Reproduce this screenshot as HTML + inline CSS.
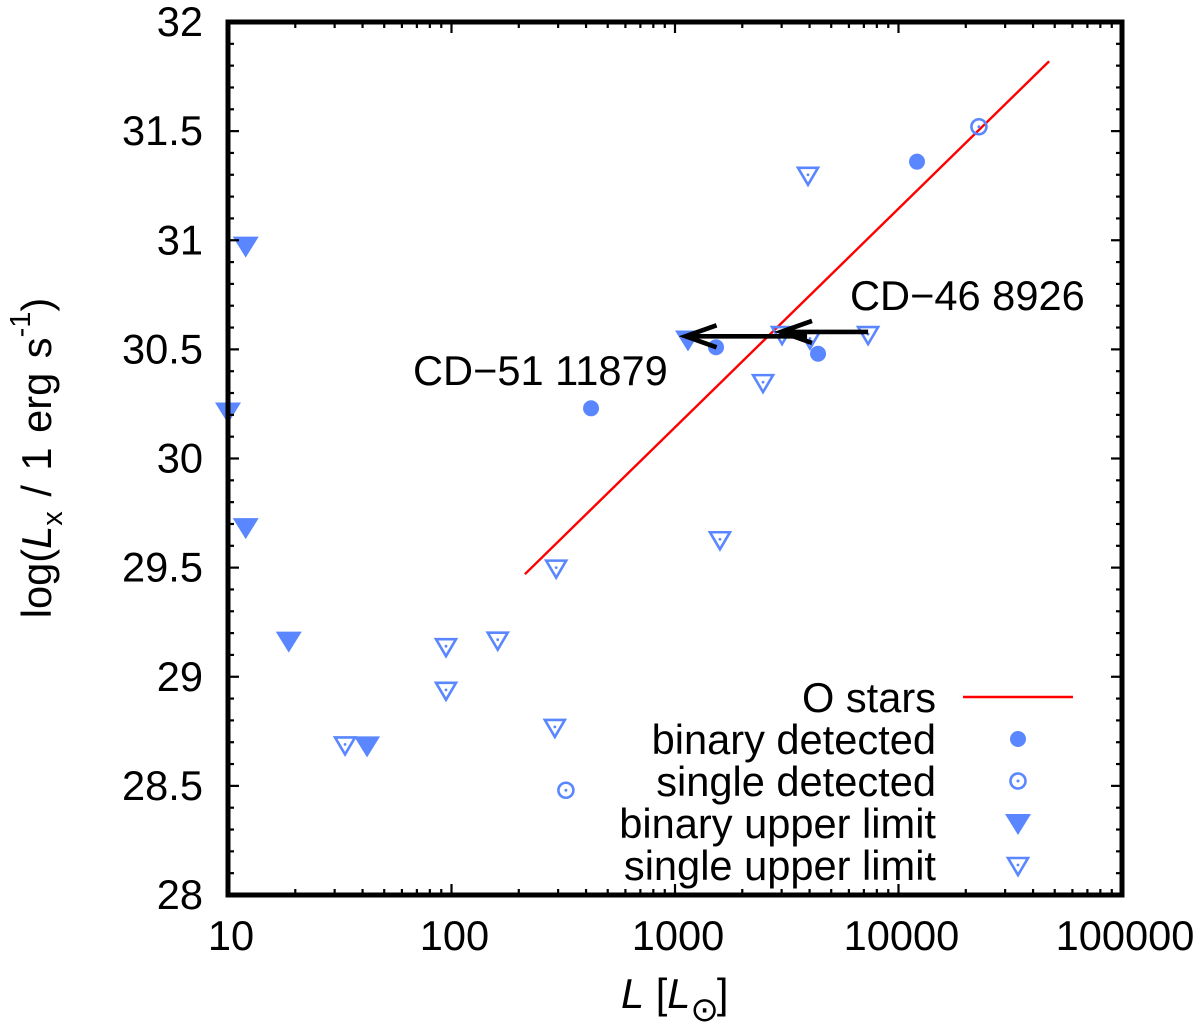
<!DOCTYPE html>
<html lang="en">
<head>
<meta charset="utf-8">
<title>X-ray luminosity versus luminosity</title>
<style>
html,body{margin:0;padding:0;background:#fff;}
svg{display:block;font-family:"Liberation Sans",sans-serif;fill:#000;}
text{font-size:41.6px;}
</style>
</head>
<body>
<svg id="chart" xmlns="http://www.w3.org/2000/svg" width="1200" height="1032" viewBox="0 0 1200 1032">
  <g id="series-layer"></g>
  <g id="axes-layer"></g>
  <g id="labels-layer">
    <text x="621" y="1008"><tspan font-style="italic">L</tspan> [<tspan font-style="italic">L</tspan><tspan dy="13" font-size="34" font-family="'DejaVu Sans',sans-serif">⊙</tspan><tspan dy="-13" dx="-2">]</tspan></text>
    <text transform="translate(51,458) rotate(-90)" text-anchor="middle" word-spacing="3">log(<tspan font-style="italic">L</tspan><tspan dy="11" font-size="29">x</tspan><tspan dy="-11"> / 1 erg s</tspan><tspan dy="-21" font-size="29">-1</tspan><tspan dy="21">)</tspan></text>
    <text x="413" y="385">CD−51 11879</text>
    <text x="850" y="310">CD−46 8926</text>
    <text x="936" y="712" text-anchor="end">O stars</text>
    <text x="936" y="754" text-anchor="end">binary detected</text>
    <text x="936" y="796" text-anchor="end">single detected</text>
    <text x="936" y="838" text-anchor="end">binary upper limit</text>
    <text x="936" y="880" text-anchor="end">single upper limit</text>
  </g>
</svg>
<script>
// ---- data ----
const xTickValues = [10, 100, 1000, 10000, 100000];
const xTickLabels = ["10", "100", "1000", "10000", "100000"];
const yTickValues = [28, 28.5, 29, 29.5, 30, 30.5, 31, 31.5, 32];
const yTickLabels = ["28", "28.5", "29", "29.5", "30", "30.5", "31", "31.5", "32"];

const oStarsL = [213, 47200];
const oStarsLx = [29.47, 31.82];

const binaryDetectedL = [421, 1526, 4365, 12100];
const binaryDetectedLx = [30.23, 30.51, 30.48, 31.36];

const singleDetectedL = [22900, 325];
const singleDetectedLx = [31.52, 28.48];

const binaryLimitL = [12, 10, 12, 18.7, 41.9, 1143];
const binaryLimitLx = [30.98, 30.22, 29.69, 29.17, 28.69, 30.55];

const singleLimitL = [3936, 7311, 3013, 4018, 2477, 1589, 294, 161, 94.5, 94.5, 33.4, 290];
const singleLimitLx = [31.30, 30.57, 30.57, 30.55, 30.35, 29.63, 29.50, 29.17, 29.14, 28.94, 28.69, 28.77];

const arrowFromL = [7311, 3899];
const arrowToL = [2980, 1115];
const arrowLx = [30.58, 30.56];

// ---- axis functions ----
const plotLeft = 228, plotRight = 1122, plotTop = 22, plotBottom = 895;
const xMinLog = 1, xMaxLog = 5, yMin = 28, yMax = 32;
function xScale(v) { return plotLeft + (Math.log10(v) - xMinLog) / (xMaxLog - xMinLog) * (plotRight - plotLeft); }
function yScale(v) { return plotBottom - (v - yMin) / (yMax - yMin) * (plotBottom - plotTop); }

const NS = "http://www.w3.org/2000/svg";
const BLUE = "#5a87ff";
const seriesLayer = document.getElementById("series-layer");
const axesLayer = document.getElementById("axes-layer");

function mk(parent, tag, attrs) {
  const el = document.createElementNS(NS, tag);
  for (const k in attrs) el.setAttribute(k, attrs[k]);
  parent.appendChild(el);
  return el;
}

function triPoints(cx, cy) {
  return (cx - 13) + "," + (cy - 8) + " " + (cx + 13) + "," + (cy - 8) + " " + cx + "," + (cy + 13);
}

function drawFilledCircle(cx, cy) {
  return mk(seriesLayer, "circle", { cx: cx, cy: cy, r: 8, fill: BLUE });
}
function drawOpenCircle(cx, cy) {
  const g = mk(seriesLayer, "g", {});
  mk(g, "circle", { cx: cx, cy: cy, r: 7.5, fill: "none", stroke: BLUE, "stroke-width": 2.6 });
  mk(g, "circle", { cx: cx, cy: cy, r: 1.5, fill: BLUE });
  return g;
}
function drawFilledTriangle(cx, cy) {
  return mk(seriesLayer, "polygon", { points: triPoints(cx, cy), fill: BLUE });
}
function drawOpenTriangle(cx, cy) {
  const g = mk(seriesLayer, "g", {});
  mk(g, "polygon", { points: (cx - 10) + "," + (cy - 7) + " " + (cx + 10) + "," + (cy - 7) + " " + cx + "," + (cy + 10), fill: "none", stroke: BLUE, "stroke-width": 2.6 });
  mk(g, "circle", { cx: cx, cy: cy, r: 1.4, fill: BLUE });
  return g;
}

// ---- O star relation ----
const oLine = mk(seriesLayer, "line", { x1: xScale(oStarsL[0]), y1: yScale(oStarsLx[0]), x2: xScale(oStarsL[1]), y2: yScale(oStarsLx[1]), stroke: "#ff0000", "stroke-width": 2.4 });



// ---- points ----
singleLimitL.forEach(function (v, i) {
  const m = drawOpenTriangle(xScale(v), yScale(singleLimitLx[i]));
  
  
});
binaryLimitL.forEach(function (v, i) {
  const m = drawFilledTriangle(xScale(v), yScale(binaryLimitLx[i]));
  
  
});
binaryDetectedL.forEach(function (v, i) {
  const m = drawFilledCircle(xScale(v), yScale(binaryDetectedLx[i]));
  
  
});
singleDetectedL.forEach(function (v, i) {
  const m = drawOpenCircle(xScale(v), yScale(singleDetectedLx[i]));
  
  
});

// ---- arrows ----
arrowFromL.forEach(function (v, i) {
  const x1 = xScale(v), x2 = xScale(arrowToL[i]), yy = yScale(arrowLx[i]);
  const a = mk(seriesLayer, "path", {
    d: "M" + x1 + " " + yy + "L" + x2 + " " + yy + "M" + (x2 + 31) + " " + (yy - 11) + "L" + x2 + " " + yy + "L" + (x2 + 31) + " " + (yy + 11),
    fill: "none", stroke: "#000", "stroke-width": 4.6, "stroke-linejoin": "miter"
  });
  
  
});

// ---- legend samples ----
const legendLine = mk(seriesLayer, "line", { x1: 963, y1: 697, x2: 1073, y2: 697, stroke: "#ff0000", "stroke-width": 2.4 });


const legendA = drawFilledCircle(1018, 739);


const legendB = drawOpenCircle(1018, 781);


const legendC = drawFilledTriangle(1018, 822);


const legendD = drawOpenTriangle(1018, 865);



// ---- ticks ----
function tick(x1, y1, x2, y2, name) {
  const t = mk(axesLayer, "line", { x1: x1, y1: y1, x2: x2, y2: y2, stroke: "#000", "stroke-width": 2.2 });
  
  
}
for (let d = 0; d < xMaxLog - xMinLog; d++) {
  for (let m = 1; m <= 9; m++) {
    const px = xScale(xTickValues[d] * m);
    const len = m === 1 ? 11 : 6;
    tick(px, plotBottom, px, plotBottom - len, 'x-tick-bottom');
    tick(px, plotTop, px, plotTop + len, 'x-tick-top');
  }
}
for (let v = 0; v <= 40; v++) {
  const py = yScale(yMin + v / 10);
  const len = v % 5 === 0 ? 11 : 6;
  tick(plotLeft, py, plotLeft + len, py, 'y-tick-left');
  tick(plotRight, py, plotRight - len, py, 'y-tick-right');
}

// ---- frame ----
const frame = mk(axesLayer, "rect", { x: plotLeft, y: plotTop, width: plotRight - plotLeft, height: plotBottom - plotTop, fill: "none", stroke: "#000", "stroke-width": 5 });



// ---- tick labels ----
xTickValues.forEach(function (v, i) {
  const t = mk(axesLayer, "text", { x: xScale(v) + 3, y: 950, "text-anchor": "middle" });
  t.textContent = xTickLabels[i];
  
  
});
yTickValues.forEach(function (v, i) {
  const t = mk(axesLayer, "text", { x: 203, y: yScale(v) + 14, "text-anchor": "end" });
  t.textContent = yTickLabels[i];
  
  
});
</script>
</body>
</html>
